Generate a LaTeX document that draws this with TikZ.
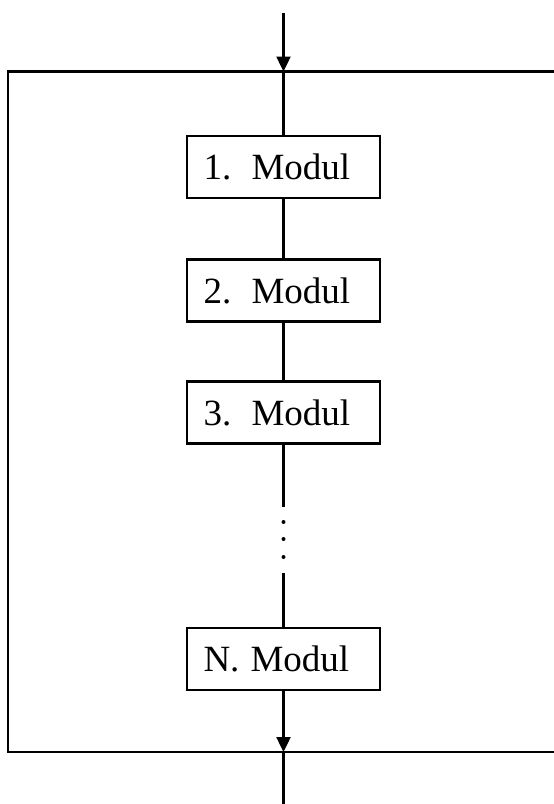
\documentclass[tikz,border=0pt]{standalone}
\usepackage{fontspec}
\setmainfont{Liberation Serif}
\usetikzlibrary{arrows.meta}
\begin{document}
\begin{tikzpicture}[x=1pt,y=-1pt,
  line width=2.4pt,
  modbox/.style={draw, rectangle, minimum height=62pt, text width=160pt,
    inner xsep=16.5pt, inner ysep=0pt, align=left,
    font=\fontsize{37}{40}\selectfont},
  flow/.style={draw},
  flowin/.style={draw, -{Triangle[width=14pt,length=15pt]}}]
  \useasboundingbox (0,0) rectangle (554,804);

  % outer frame, open towards the right edge
  \coordinate (ftr) at (554,71.5);
  \coordinate (ftl) at (8,71.5);
  \coordinate (fbl) at (8,752);
  \coordinate (fbr) at (554,752);
  \draw[line cap=rect] (ftr) -- (ftl) -- (fbl) -- (fbr);

  % entry and exit points on the frame
  \coordinate (src) at (283.5,13);
  \coordinate (entry) at (283.5,71.5);
  \coordinate (exit) at (283.5,752);
  \coordinate (sink) at (283.5,804);

  % module chain
  \node[modbox] (m1) at (283.5,167)   {1.\hspace{0.55em}Modul};
  \node[modbox] (m2) at (283.5,290.5) {2.\hspace{0.55em}Modul};
  \node[modbox] (m3) at (283.5,412.5) {3.\hspace{0.55em}Modul};
  \node[modbox] (mN) at (283.5,659)   {N.\hspace{0.3em}Modul};

  % interrupted part of the chain
  \coordinate (gapA) at (283.5,507);
  \coordinate (gapB) at (283.5,573);

  \draw[flowin] (src) -- (entry);
  \draw[flow] (entry) -- (m1.north);
  \draw[flow] (m1.south) -- (m2.north);
  \draw[flow] (m2.south) -- (m3.north);
  \draw[flow] (m3.south) -- (gapA);
  \foreach \yy in {522,539,557} \fill (283.5,\yy) circle (2pt);
  \draw[flow] (gapB) -- (mN.north);
  \draw[flowin] (mN.south) -- (exit);
  \draw[flow] (exit) -- (sink);
\end{tikzpicture}
\end{document}
